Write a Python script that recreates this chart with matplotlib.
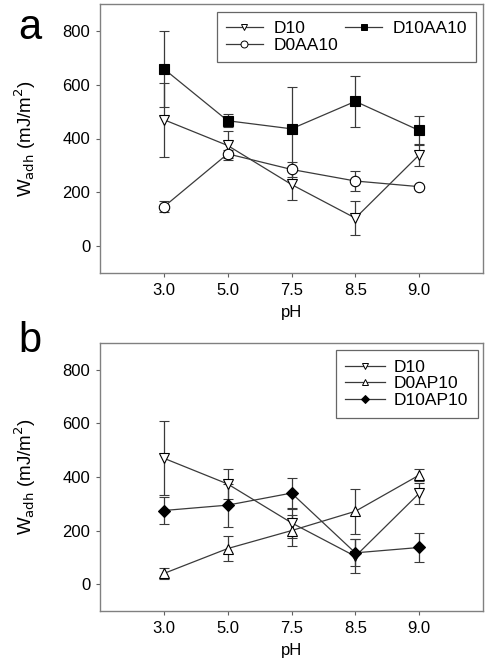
import matplotlib
matplotlib.use("Agg")
import matplotlib.pyplot as plt
from matplotlib.lines import Line2D
import numpy as np

plt.rcParams['font.family'] = ['Liberation Sans', 'DejaVu Sans']

ph_labels = ["3.0", "5.0", "7.5", "8.5", "9.0"]

# Panel a
d10 = [470, 374, 229, 104, 339]
d10_err = [138, 55, 56, 63, 40]
d10aa10 = [659, 466, 436, 538, 430]
d10aa10_err = [141, 25, 156, 94, 55]
d0aa10 = [146, 343, 285, 242, 221]
d0aa10_err = [20, 15, 27, 36, 0]

# Panel b
d0ap10 = [40, 133, 200, 272, 407]
d0ap10_err = [21, 45, 57, 84, 21]
d10ap10 = [275, 295, 340, 117, 137]
d10ap10_err = [50, 80, 58, 50, 53]

fig = plt.figure(figsize=(4.91, 6.68), dpi=100)
W, H = 491, 668
ax_a = fig.add_axes([100/W, 1-273/H, 383/W, 269/H])
ax_b = fig.add_axes([100/W, 1-611/H, 383/W, 268/H])

lc = '#3a3a3a'
x = np.arange(1, 6)

def series(ax, y, e, marker, face, ms):
    ax.errorbar(x, y, yerr=e, color=lc, lw=0.9, elinewidth=0.9, capsize=3.5, capthick=0.9,
                marker=marker, ms=ms, mfc=face, mec='black', mew=0.8)

def handle(marker, face, ms):
    return Line2D([], [], color=lc, lw=0.9, marker=marker, ms=ms, mfc=face, mec='black', mew=0.7)

def style(ax, letter, ypos):
    ax.set_xlim(0, 6)
    ax.set_ylim(-100, 900)
    ax.set_xticks(x)
    ax.set_xticklabels(ph_labels)
    ax.set_yticks([0, 200, 400, 600, 800])
    for s in ['top', 'right', 'left', 'bottom']:
        ax.spines[s].set_color('#808080')
        ax.spines[s].set_linewidth(1.0)
    ax.tick_params(direction='out', length=3, width=0.8, color='#606060', labelsize=12, pad=4)
    ax.set_xlabel('pH', fontsize=12, labelpad=5)
    ax.set_ylabel(r'W$_{\mathrm{adh}}$ (mJ/m$^2$)', fontsize=13.5)
    ax.yaxis.set_label_coords(-(100-38)/383, 0.5)
    fig.text(30/W, 1-ypos/H, letter, fontsize=30, ha='center', va='center')

series(ax_a, d10, d10_err, 'v', 'white', 7.5)
series(ax_a, d0aa10, d0aa10_err, 'o', 'white', 7.5)
series(ax_a, d10aa10, d10aa10_err, 's', 'black', 6.5)
style(ax_a, 'a', 28)
hs = [handle('v', 'white', 5), handle('o', 'white', 5), handle('s', 'black', 4.5)]
leg = ax_a.legend(hs, ['D10', 'D0AA10', 'D10AA10'], loc='upper right', ncol=2, fontsize=12.5,
                  frameon=True, fancybox=False, edgecolor='#404040', handlelength=2.15,
                  columnspacing=0.4, borderpad=0.5, labelspacing=0.13, handletextpad=0.6,
                  borderaxespad=0, bbox_to_anchor=(1 - 7/383, 1 - 8/269))
leg.get_frame().set_linewidth(0.9)

series(ax_b, d10, d10_err, 'v', 'white', 7.5)
series(ax_b, d0ap10, d0ap10_err, '^', 'white', 7.5)
series(ax_b, d10ap10, d10ap10_err, 'D', 'black', 6.5)
style(ax_b, 'b', 341)
hs = [handle('v', 'white', 5), handle('^', 'white', 5), handle('D', 'black', 4.5)]
leg = ax_b.legend(hs, ['D10', 'D0AP10', 'D10AP10'], loc='upper right', ncol=1, fontsize=12.5,
                  frameon=True, fancybox=False, edgecolor='#404040', handlelength=2.3,
                  borderpad=0.56, labelspacing=0.08, handletextpad=0.5,
                  borderaxespad=0, bbox_to_anchor=(1 - 5/383, 1 - 7/268))
leg.get_frame().set_linewidth(0.9)

fig.savefig('out.png', dpi=100)
